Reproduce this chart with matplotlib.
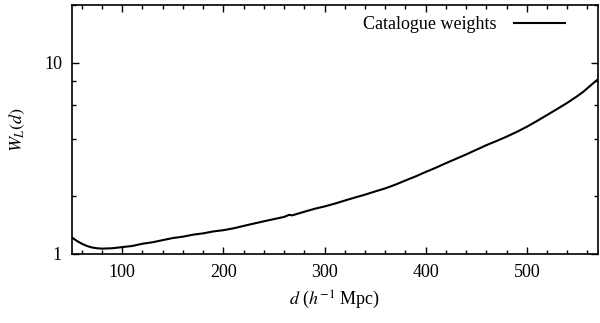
import numpy as np
import matplotlib
matplotlib.use('Agg')
import matplotlib.pyplot as plt
from matplotlib.ticker import FixedLocator, MultipleLocator, NullFormatter, LogLocator

plt.rcParams['font.family'] = 'Liberation Serif'
plt.rcParams['mathtext.fontset'] = 'stix'
plt.rcParams['font.size'] = 13

# catalogue weights W_L(d)
d = [50, 55, 60, 65, 70, 75, 80, 90, 100, 110, 120, 130, 140, 150, 160, 170,
     180, 190, 200, 210, 220, 225, 230, 240, 250, 260, 265, 268, 280, 290,
     300, 310, 320, 330, 340, 350, 360, 370, 380, 390, 400, 410, 420, 430,
     440, 450, 460, 470, 480, 490, 500, 510, 520, 530, 540, 550, 556, 560,
     565, 570]
w = [1.22, 1.17, 1.13, 1.10, 1.08, 1.07, 1.065, 1.07, 1.085, 1.10, 1.13, 1.15,
     1.18, 1.21, 1.23, 1.26, 1.28, 1.31, 1.33, 1.36, 1.40, 1.42, 1.44, 1.48,
     1.52, 1.56, 1.60, 1.59, 1.66, 1.72, 1.77, 1.83, 1.90, 1.97, 2.04, 2.12,
     2.20, 2.30, 2.42, 2.54, 2.68, 2.82, 2.98, 3.14, 3.31, 3.50, 3.70, 3.89,
     4.10, 4.34, 4.62, 4.95, 5.32, 5.72, 6.16, 6.68, 7.05, 7.35, 7.75, 8.15]

fig = plt.figure(figsize=(6.0, 3.23), dpi=100)
ax = fig.add_axes([0.1195, 0.214, 0.8765, 0.7705])
ax.plot(d, w, color='black', lw=1.5, label='Catalogue weights')

ax.set_yscale('log')
ax.set_xlim(50, 570)
ax.set_ylim(1, 20)
ax.xaxis.set_major_locator(MultipleLocator(100))
ax.xaxis.set_minor_locator(MultipleLocator(20))
ax.yaxis.set_major_locator(FixedLocator([1, 10]))
ax.yaxis.set_major_formatter(plt.FuncFormatter(lambda v, p: '%d' % v))
ax.yaxis.set_minor_locator(LogLocator(base=10, subs=(2, 4, 6, 8)))
ax.yaxis.set_minor_formatter(NullFormatter())
ax.tick_params(which='both', direction='in', top=True, right=True, width=1)
ax.tick_params(which='major', length=5, pad=7)
ax.tick_params(which='minor', length=3)
for s in ax.spines.values():
    s.set_linewidth(1.2)

ax.set_xlabel('$d$ ($h^{-1}$ Mpc)', labelpad=6)
ax.set_ylabel('$W_L(d)$', labelpad=12)
ax.legend(loc='upper right', frameon=False, markerfirst=False,
          handlelength=2.8, handletextpad=1.0, borderaxespad=0.2,
          bbox_to_anchor=(0.958, 1.0))

plt.savefig('out.png', dpi=100)
